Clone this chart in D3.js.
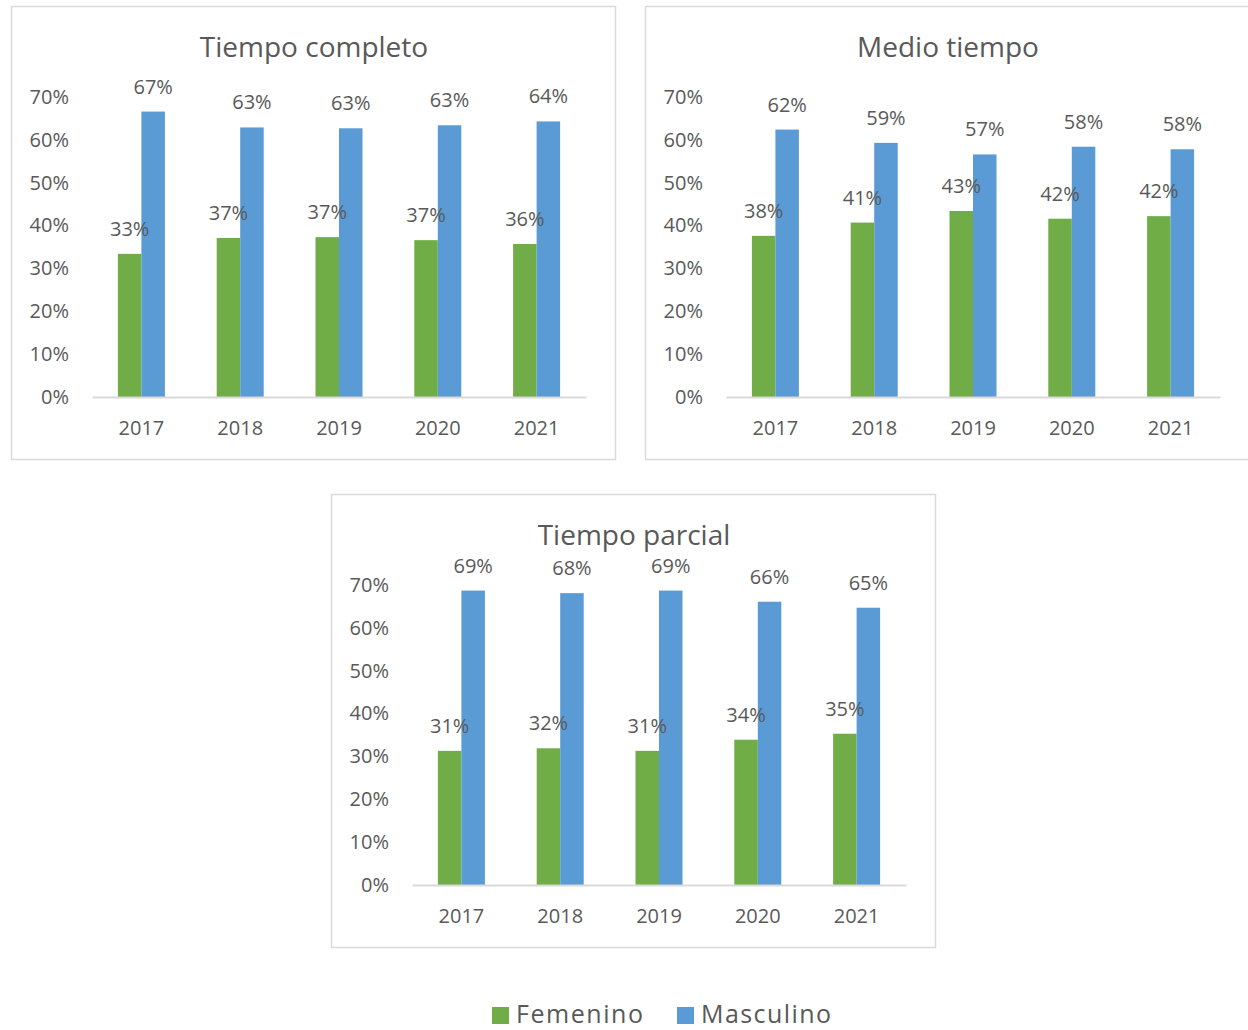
<!DOCTYPE html>
<html>
<head>
<meta charset="utf-8">
<script src="https://cdn.jsdelivr.net/npm/d3@7"></script>
<style>
  body { margin: 0; background: #fff; }
  svg text { font-family: "Open Sans", "Noto Sans", sans-serif; fill: #595959; }
</style>
</head>
<body>
<script>
// Data
const years = ["2017", "2018", "2019", "2020", "2021"];
const series = ["Femenino", "Masculino"];
const titles = ["Tiempo completo", "Medio tiempo", "Tiempo parcial"];
const completoFem = [0.334, 0.371, 0.373, 0.366, 0.357];
const completoMasc = [0.666, 0.629, 0.627, 0.634, 0.643];
const medioFem = [0.376, 0.407, 0.434, 0.416, 0.422];
const medioMasc = [0.624, 0.593, 0.566, 0.584, 0.578];
const parcialFem = [0.313, 0.319, 0.313, 0.339, 0.353];
const parcialMasc = [0.687, 0.681, 0.687, 0.661, 0.647];
const yTicks = [0, 0.1, 0.2, 0.3, 0.4, 0.5, 0.6, 0.7];

const colors = { Femenino: "#70ad47", Masculino: "#5b9bd5" };

// panel boxes
const panels = [
  { title: titles[0], fem: completoFem, masc: completoMasc, x: 11, y: 6 },
  { title: titles[1], fem: medioFem, masc: medioMasc, x: 645, y: 6 },
  { title: titles[2], fem: parcialFem, masc: parcialMasc, x: 331, y: 494 }
];
const panelW = 604, panelH = 453;

const svg = d3.select("body").append("svg")
    .attr("width", 1248)
    .attr("height", 1030);

const pct = d3.format(".0%");

panels.forEach(p => {
    let g = svg.append("g").attr("transform", "translate(" + p.x + "," + p.y + ")");

    g.append("rect")
        .attr("x", 0.5).attr("y", 0.5)
        .attr("width", panelW).attr("height", panelH)
        .attr("fill", "#fff")
        .attr("stroke", "#d9d9d9")
        .attr("stroke-width", 1.5);

    g.append("text")
        .attr("x", panelW / 2 + 1)
        .attr("y", 51)
        .attr("text-anchor", "middle")
        .attr("font-size", 28)
        .text(p.title);

    let y = d3.scaleLinear().domain([0, 0.7]).range([391, 91]);
    let x0 = d3.scaleBand().domain(years).range([81, 575]);
    let x1 = d3.scaleBand().domain(series).range([-23.5, 23.5]);

    // y axis labels
    let yAxis = g.append("g")
        .attr("transform", "translate(58,0)")
        .call(d3.axisLeft(y).tickValues(yTicks).tickFormat(pct).tickSize(0).tickPadding(0));
    yAxis.select(".domain").remove();
    yAxis.selectAll("text")
        .attr("font-size", 20)
        .attr("fill", "#595959")
        .style("font-family", '"Open Sans", sans-serif');

    // bars
    let rows = years.map((yr, i) => ({ year: yr, values: [
        { key: "Femenino", v: p.fem[i] },
        { key: "Masculino", v: p.masc[i] }
    ]}));

    let groups = g.selectAll("g.yr").data(rows).enter().append("g")
        .attr("class", "yr")
        .attr("transform", d => "translate(" + (x0(d.year) + x0.bandwidth() / 2) + ",0)");

    groups.selectAll("rect").data(d => d.values).enter().append("rect")
        .attr("x", d => x1(d.key))
        .attr("width", x1.bandwidth())
        .attr("y", d => y(d.v))
        .attr("height", d => y(0) - y(d.v))
        .attr("fill", d => colors[d.key]);

    groups.selectAll("text.lbl").data(d => d.values).enter().append("text")
        .attr("class", "lbl")
        .attr("x", d => x1(d.key) + x1.bandwidth() / 2)
        .attr("y", d => y(d.v) - 18)
        .attr("text-anchor", "middle")
        .attr("font-size", 20)
        .text(d => pct(d.v));

    // x axis
    let xAxis = g.append("g")
        .attr("transform", "translate(0," + y(0) + ")")
        .call(d3.axisBottom(x0).tickSize(0).tickSizeOuter(0).tickPadding(24));
    xAxis.select(".domain")
        .attr("stroke", "#d9d9d9")
        .attr("stroke-width", 2);
    xAxis.selectAll("text")
        .attr("font-size", 20)
        .attr("fill", "#595959")
        .style("font-family", '"Open Sans", sans-serif');
});

// legend
let legend = svg.append("g").attr("transform", "translate(492,1007)");
let items = legend.selectAll("g").data(series).enter().append("g")
    .attr("transform", (d, i) => "translate(" + (i * 185) + ",0)");
items.append("rect")
    .attr("width", 17).attr("height", 17)
    .attr("fill", d => colors[d]);
items.append("text")
    .attr("x", 24)
    .attr("y", 16)
    .attr("font-size", 25)
    .attr("textLength", d => d === "Femenino" ? 127 : 130)
    .text(d => d);
</script>
</body>
</html>
